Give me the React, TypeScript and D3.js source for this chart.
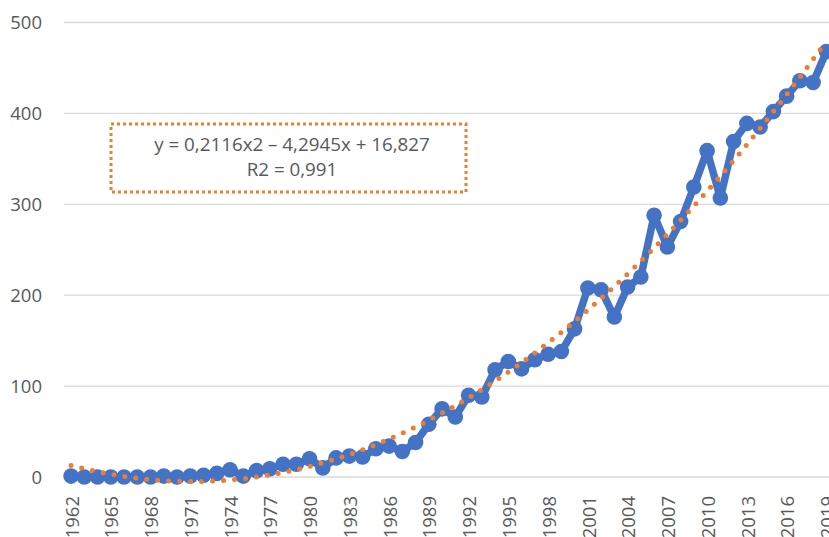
import React, { useEffect, useRef } from 'react';
import * as d3 from 'd3';

const years = [
  1962, 1963, 1964, 1965, 1966, 1967, 1968, 1969, 1970, 1971,
  1972, 1973, 1974, 1975, 1976, 1977, 1978, 1979, 1980, 1981,
  1982, 1983, 1984, 1985, 1986, 1987, 1988, 1989, 1990, 1991,
  1992, 1993, 1994, 1995, 1996, 1997, 1998, 1999, 2000, 2001,
  2002, 2003, 2004, 2005, 2006, 2007, 2008, 2009, 2010, 2011,
  2012, 2013, 2014, 2015, 2016, 2017, 2018, 2019,
];

const values = [
  1, 0, 0, 0, 0, 0, 0, 1, 0, 1,
  2, 4, 8, 1, 7, 9, 14, 14, 20, 10,
  21, 23, 22, 31, 34, 28, 38, 58, 75, 66,
  90, 88, 118, 127, 119, 129, 135, 138, 163, 208,
  206, 176, 209, 220, 288, 253, 281, 319, 359, 307,
  369, 389, 385, 402, 419, 436, 434, 468,
];

const xTickLabels = [
  1962, 1965, 1968, 1971, 1974, 1977, 1980, 1983, 1986, 1989,
  1992, 1995, 1998, 2001, 2004, 2007, 2010, 2013, 2016, 2019,
];
const yTicks = [0, 100, 200, 300, 400, 500];

// trendline coefficients shown in the chart (x = 1..58)
const trendA = 0.2116;
const trendB = -4.2945;
const trendC = 16.827;
const equationLines = ['y = 0,2116x2 – 4,2945x + 16,827', 'R2 = 0,991'];

const W = 829;
const H = 537;
const textColor = '#595959';
const font = '"Open Sans", "Noto Sans", sans-serif';

const App = () => {
  const svgRef = useRef<SVGSVGElement>(null);

  useEffect(() => {
    const svg = d3.select(svgRef.current);
    svg.selectAll('*').remove();

    const x = d3.scaleBand<number>().domain(years).range([64.4, 833]);
    const cx = (d: number) => (x(d) as number) + x.bandwidth() / 2;
    const y = d3.scaleLinear().domain([0, 500]).range([477, 22.5]);

    // gridlines
    svg
      .append('g')
      .selectAll('line')
      .data(yTicks)
      .join('line')
      .attr('x1', 64)
      .attr('x2', W)
      .attr('y1', d => y(d))
      .attr('y2', d => y(d))
      .attr('stroke', '#d9d9d9')
      .attr('stroke-width', 1.3);

    // y labels
    svg
      .append('g')
      .selectAll('text')
      .data(yTicks)
      .join('text')
      .attr('x', 42)
      .attr('y', d => y(d))
      .attr('dy', '0.36em')
      .attr('text-anchor', 'end')
      .attr('fill', textColor)
      .style('font-family', font)
      .style('font-size', '18.5px')
      .text(d => d);

    // x labels
    svg
      .append('g')
      .selectAll('text')
      .data(xTickLabels)
      .join('text')
      .attr('transform', d => `translate(${cx(d) + 1},${y(0) + 19}) rotate(-90)`)
      .attr('dy', '0.36em')
      .attr('text-anchor', 'end')
      .attr('fill', textColor)
      .style('font-family', font)
      .style('font-size', '18.5px')
      .text(d => d);

    // series
    const pts = years.map((yr, i) => [cx(yr), y(values[i])] as [number, number]);
    svg
      .append('path')
      .attr('d', d3.line()(pts))
      .attr('fill', 'none')
      .attr('stroke', '#4472c4')
      .attr('stroke-width', 7.5)
      .attr('stroke-linejoin', 'round');
    svg
      .append('g')
      .selectAll('circle')
      .data(pts)
      .join('circle')
      .attr('cx', d => d[0])
      .attr('cy', d => d[1])
      .attr('r', 7.8)
      .attr('fill', '#4472c4');

    // trendline
    const tx = d3
      .scaleLinear()
      .domain([1, years.length])
      .range([cx(years[0]), cx(years[years.length - 1])]);
    const tPts = d3
      .range(1, years.length + 0.001, 0.25)
      .map(t => [tx(t), y(trendA * t * t + trendB * t + trendC)] as [number, number]);
    svg
      .append('path')
      .attr('d', d3.line()(tPts))
      .attr('fill', 'none')
      .attr('stroke', '#ed7d31')
      .attr('stroke-width', 5)
      .attr('stroke-linecap', 'round')
      .attr('stroke-dasharray', '0 11');

    // equation box
    svg
      .append('rect')
      .attr('x', 111)
      .attr('y', 124)
      .attr('width', 355)
      .attr('height', 68)
      .attr('fill', 'white')
      .attr('stroke', '#ed7d31')
      .attr('stroke-width', 3)
      .attr('stroke-dasharray', '3 3');
    svg
      .append('g')
      .selectAll('text')
      .data(equationLines)
      .join('text')
      .attr('x', 292)
      .attr('y', (d, i) => 151 + i * 24.5)
      .attr('text-anchor', 'middle')
      .attr('fill', textColor)
      .style('font-family', font)
      .style('font-size', '18.8px')
      .text(d => d);
  }, []);

  return (
    <svg
      ref={svgRef}
      width={W}
      height={H}
      style={{ position: 'absolute', left: 0, top: 0, background: 'white' }}
    />
  );
};

export default App;
